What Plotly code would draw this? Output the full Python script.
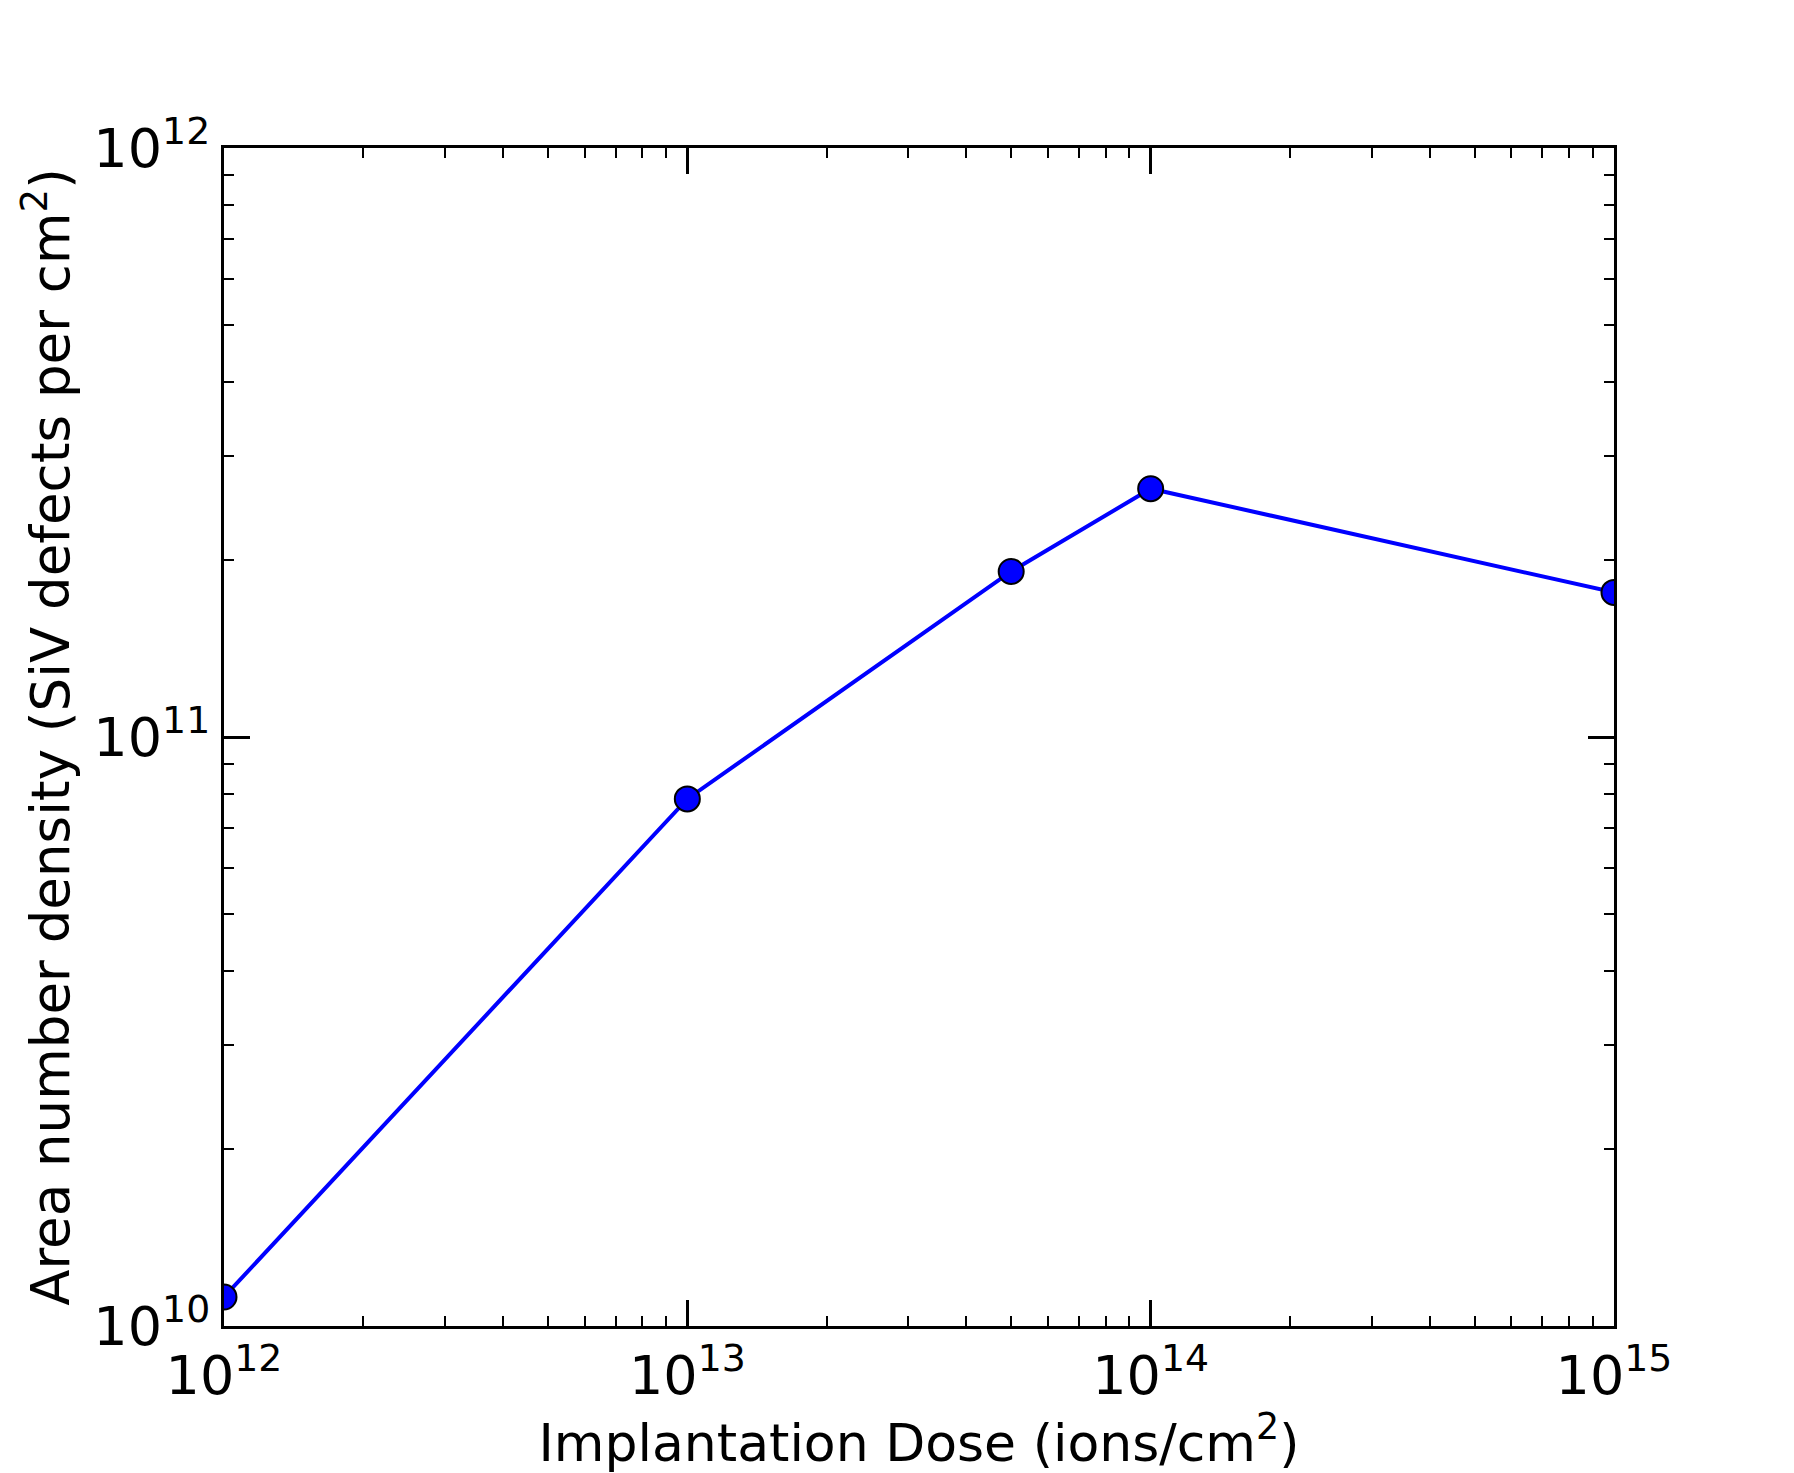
import plotly.graph_objects as go

dose = [1e12, 1e13, 5e13, 1e14, 1e15]
density = [1.12e10, 7.85e10, 1.91e11, 2.64e11, 1.76e11]

x_tickvals = [1e12, 1e13, 1e14, 1e15]
x_ticktext = ["10<sup>12</sup>", "10<sup>13</sup>", "10<sup>14</sup>", "10<sup>15</sup>"]
y_tickvals = [1e10, 1e11, 1e12]
y_ticktext = ["10<sup>10</sup>", "10<sup>11</sup>", "10<sup>12</sup>"]

FONT = "DejaVu Sans"

fig = go.Figure()
fig.add_trace(go.Scatter(
    x=dose, y=density, mode="lines+markers",
    line=dict(color="#0000ff", width=4),
    marker=dict(color="#0000ff", size=25, line=dict(color="black", width=2)),
    cliponaxis=True, showlegend=False,
))

axis_common = dict(
    type="log", showgrid=False, zeroline=False,
    showline=True, linecolor="black", linewidth=3, mirror="allticks",
    ticks="inside", ticklen=26, tickwidth=3, tickcolor="black",
    tickfont=dict(family=FONT, size=54, color="black"),
    minor=dict(ticks="inside", ticklen=10, tickwidth=1.5, tickcolor="black", dtick="D1", showgrid=False),
)

fig.update_xaxes(
    **axis_common,
    range=[12, 15],
    tickvals=x_tickvals, ticktext=x_ticktext,
    title=dict(text="Implantation Dose (ions/cm<sup>2</sup>)", font=dict(family=FONT, size=52, color="black"), standoff=0),
)
fig.update_yaxes(
    **axis_common,
    range=[10, 12],
    tickvals=y_tickvals, ticktext=y_ticktext,
    title=dict(text="Area number density (SiV defects per cm<sup>2</sup>)", font=dict(family=FONT, size=53, color="black"), standoff=7),
)

fig.update_layout(
    width=1794, height=1473,
    margin=dict(l=224, r=180, t=148, b=147),
    paper_bgcolor="white", plot_bgcolor="white",
    font=dict(family=FONT, color="black"),
)

fig.write_html("out.html")
